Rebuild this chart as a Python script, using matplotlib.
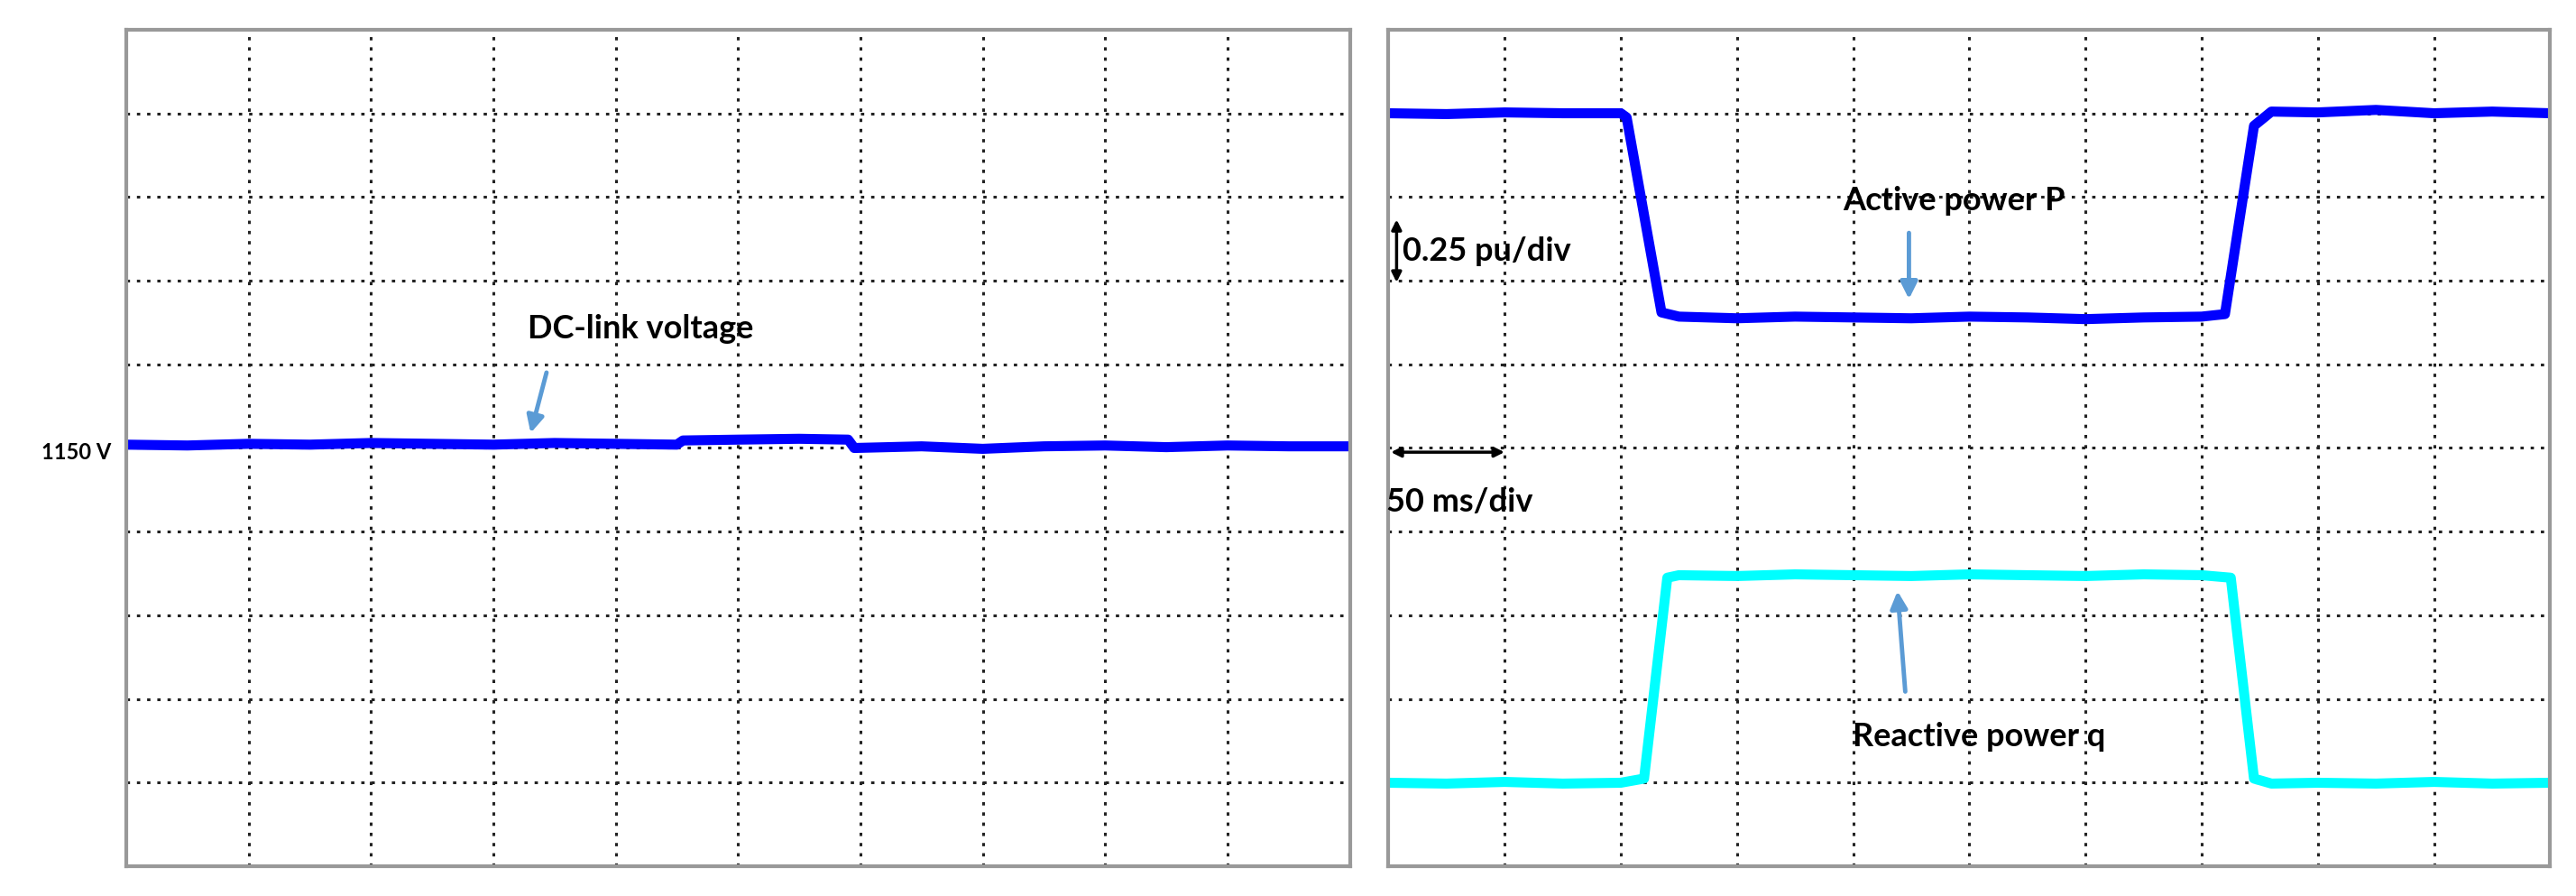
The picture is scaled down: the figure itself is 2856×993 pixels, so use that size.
import numpy as np
import matplotlib
matplotlib.use("Agg")
import matplotlib.pyplot as plt

plt.rcParams['font.family'] = ['Lato', 'DejaVu Sans']

# left panel: DC-link voltage (divisions)
vdc_t = [0, 0.5, 1.0, 1.5, 2.0, 2.5, 3.0, 3.5, 4.0, 4.5, 4.55, 5.0, 5.5, 5.9, 5.95, 6.5, 7.0, 7.5, 8.0, 8.5, 9.0, 9.5, 10]
vdc_v = [5.04, 5.03, 5.05, 5.04, 5.06, 5.05, 5.04, 5.06, 5.05, 5.04, 5.09, 5.1, 5.11, 5.1, 5.0, 5.02, 4.99, 5.02, 5.03, 5.01, 5.03, 5.02, 5.02]

# right panel: active power P and reactive power q (divisions)
p_t = [0, 0.5, 1.0, 1.5, 2.0, 2.05, 2.35, 2.5, 3.0, 3.5, 4.0, 4.5, 5.0, 5.5, 6.0, 6.5, 7.0, 7.2, 7.45, 7.6, 8.0, 8.5, 9.0, 9.5, 10]
p_v = [9.0, 8.99, 9.01, 9.0, 9.0, 8.95, 6.62, 6.57, 6.55, 6.57, 6.56, 6.55, 6.57, 6.56, 6.54, 6.56, 6.57, 6.6, 8.85, 9.02, 9.01, 9.04, 9.0, 9.02, 9.0]
q_t = [0, 0.5, 1.0, 1.5, 2.0, 2.2, 2.4, 2.5, 3.0, 3.5, 4.0, 4.5, 5.0, 5.5, 6.0, 6.5, 7.0, 7.25, 7.45, 7.6, 8.0, 8.5, 9.0, 9.5, 10]
q_v = [1.0, 0.99, 1.01, 0.99, 1.0, 1.05, 3.45, 3.48, 3.47, 3.49, 3.48, 3.47, 3.49, 3.48, 3.47, 3.49, 3.48, 3.45, 1.05, 0.99, 1.0, 0.99, 1.01, 0.99, 1.0]

fig = plt.figure(figsize=(28.56, 9.93), dpi=100)
ax1 = fig.add_axes([0.049, 0.033, 0.475, 0.934])
ax2 = fig.add_axes([0.539, 0.033, 0.451, 0.934])

for ax in (ax1, ax2):
    ax.set_xlim(0, 10)
    ax.set_ylim(0, 10)
    ax.set_xticks(np.arange(1, 10))
    ax.set_yticks(np.arange(1, 10))
    ax.tick_params(length=0, labelleft=False, labelbottom=False)
    ax.grid(True, color='#222222', linestyle=(0, (1.2, 2.5)), linewidth=2.2)
    for s in ax.spines.values():
        s.set_color('#999999')
        s.set_linewidth(3)

arrow_c = '#5b9bd5'
fs = 26

ax1.plot(vdc_t, vdc_v, color='#0000ff', linewidth=8)
ax1.text(-0.12, 4.95, '1150 V', ha='right', va='center', fontsize=17, fontweight='bold', clip_on=False)
ax1.text(4.2, 6.42, 'DC-link voltage', ha='center', va='center', fontsize=fs, fontweight='bold')
ax1.annotate('', xy=(3.3, 5.15), xytext=(3.44, 5.93),
             arrowprops=dict(arrowstyle='-|>', color=arrow_c, lw=3.5, mutation_scale=28))

ax2.plot(p_t, p_v, color='#0000ff', linewidth=8)
ax2.plot(q_t, q_v, color='#00ffff', linewidth=8)
ax2.text(4.87, 7.95, 'Active power P', ha='center', va='center', fontsize=fs, fontweight='bold')
ax2.annotate('', xy=(4.48, 6.75), xytext=(4.48, 7.6),
             arrowprops=dict(arrowstyle='-|>', color=arrow_c, lw=3.5, mutation_scale=28))
ax2.text(5.08, 1.55, 'Reactive power q', ha='center', va='center', fontsize=fs, fontweight='bold')
ax2.annotate('', xy=(4.38, 3.32), xytext=(4.45, 2.06),
             arrowprops=dict(arrowstyle='-|>', color=arrow_c, lw=3.5, mutation_scale=28))
ax2.annotate('', xy=(0.07, 6.95), xytext=(0.07, 7.76),
             arrowprops=dict(arrowstyle='<|-|>', color='black', lw=2.5, mutation_scale=16))
ax2.text(0.12, 7.35, '0.25 pu/div', ha='left', va='center', fontsize=fs, fontweight='bold')
ax2.annotate('', xy=(0.0, 4.95), xytext=(1.02, 4.95),
             arrowprops=dict(arrowstyle='<|-|>', color='black', lw=2.5, mutation_scale=16))
ax2.text(-0.02, 4.35, '50 ms/div', ha='left', va='center', fontsize=fs, fontweight='bold')

fig.savefig('out.png', dpi=100)
